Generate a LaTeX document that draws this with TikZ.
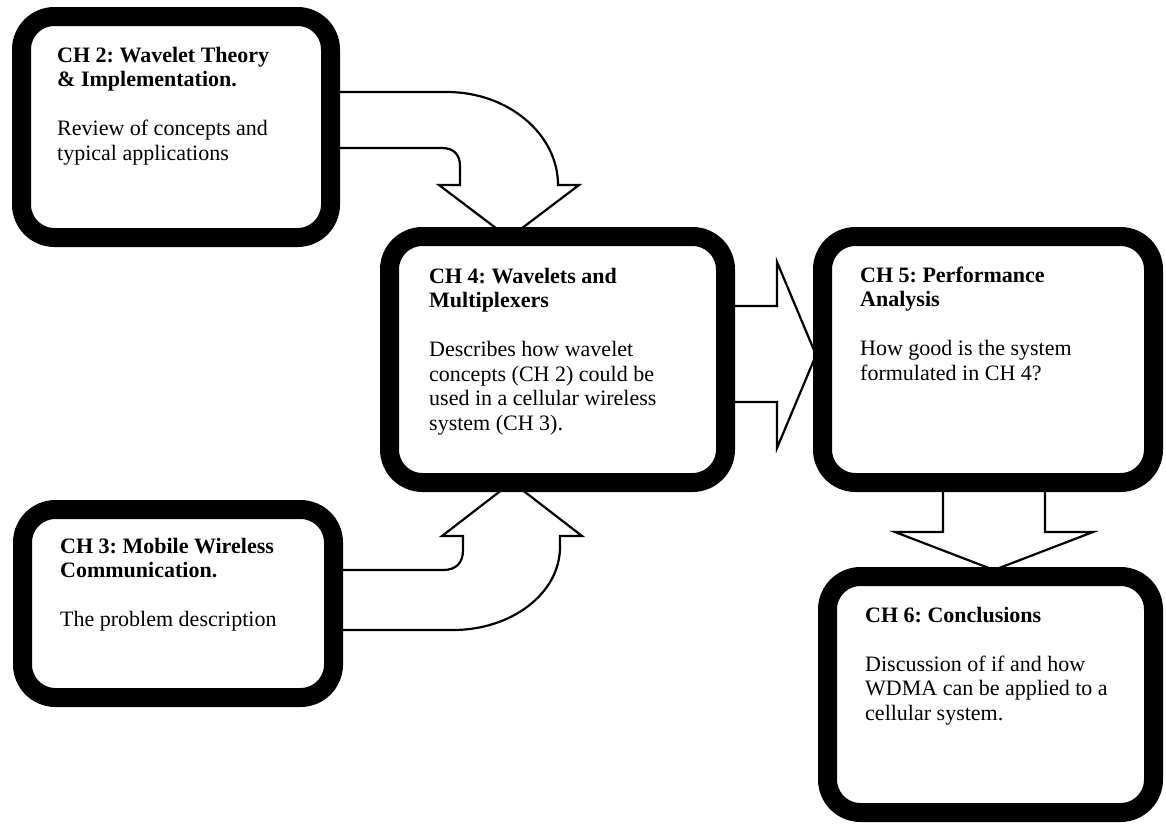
\documentclass[tikz,border=0pt]{standalone}
\usepackage{fontspec}
\setmainfont{Liberation Serif}
\frenchspacing
\begin{document}
\begin{tikzpicture}[x=1pt,y=-1pt,
  chbox/.style={rectangle, draw=black, fill=white, line width=19pt,
    rounded corners=33pt, inner sep=0pt, outer sep=0pt},
  blockarrow/.style={draw=black, fill=white, line width=2.2pt, line join=miter},
  chtext/.style={anchor=base west, inner sep=0pt, align=left,
    font=\fontsize{22}{24.5}\selectfont}
]
\useasboundingbox (0,0) rectangle (1166,828);

% block arrows (drawn first, the boxes cover their ends)
% CH 2 -> CH 4, bent down
\draw[blockarrow] (331,92) -- (447,92)
  .. controls (508,92) and (558,134) .. (558,185)
  -- (579,185) -- (509,238) -- (439,185) -- (460,185) -- (460,166)
  .. controls (460,155) and (454,148) .. (442,148)
  -- (331,148) -- cycle;
% CH 3 -> CH 4, bent up
\draw[blockarrow] (333,570) -- (443,570)
  .. controls (456,570) and (463,563) .. (463,550)
  -- (463,536) -- (442,536) -- (512,482) -- (582,536) -- (560,536) -- (560,547)
  .. controls (560,593) and (512,630) .. (453,630)
  -- (333,630) -- cycle;
% CH 4 -> CH 5
\draw[blockarrow] (726,306) -- (777,306) -- (777,262) -- (816,355)
  -- (777,448) -- (777,402) -- (726,402) -- cycle;
% CH 5 -> CH 6
\draw[blockarrow] (943,483) -- (943,532) -- (895,532) -- (994,570)
  -- (1093,532) -- (1045,532) -- (1045,483) -- cycle;

% chapter boxes
\node[chbox, minimum width=309pt, minimum height=221pt] (ch2) at (176,127) {};
\node[chbox, minimum width=311pt, minimum height=188pt] (ch3) at (178,603.5) {};
\node[chbox, minimum width=336pt, minimum height=246pt] (ch4) at (557.5,359.5) {};
\node[chbox, minimum width=331pt, minimum height=246pt] (ch5) at (988,359.5) {};
\node[chbox, minimum width=326pt, minimum height=236pt] (ch6) at (990.5,694.5) {};

% box texts
\node[chtext] (ch2text) at (57,62) {\begin{tabular}[t]{@{}l@{}}
  \textbf{CH 2: Wavelet Theory}\\
  \textbf{\& Implementation.}\\
  \\
  Review of concepts and\\
  typical applications
\end{tabular}};
\node[chtext] (ch3text) at (60,553) {\begin{tabular}[t]{@{}l@{}}
  \textbf{CH 3: Mobile Wireless}\\
  \textbf{Communication.}\\
  \\
  The problem description
\end{tabular}};
\node[chtext] (ch4text) at (429,283) {\begin{tabular}[t]{@{}l@{}}
  \textbf{CH 4: Wavelets and}\\
  \textbf{Multiplexers}\\
  \\
  Describes how wavelet\\
  concepts (CH 2) could be\\
  used in a cellular wireless\\
  system (CH 3).
\end{tabular}};
\node[chtext] (ch5text) at (860,282) {\begin{tabular}[t]{@{}l@{}}
  \textbf{CH 5: Performance}\\
  \textbf{Analysis}\\
  \\
  How good is the system\\
  formulated in CH 4?
\end{tabular}};
\node[chtext] (ch6text) at (865,622) {\begin{tabular}[t]{@{}l@{}}
  \textbf{CH 6: Conclusions}\\
  \\
  Discussion of if and how\\
  WDMA can be applied to a\\
  cellular system.
\end{tabular}};
\end{tikzpicture}
\end{document}
